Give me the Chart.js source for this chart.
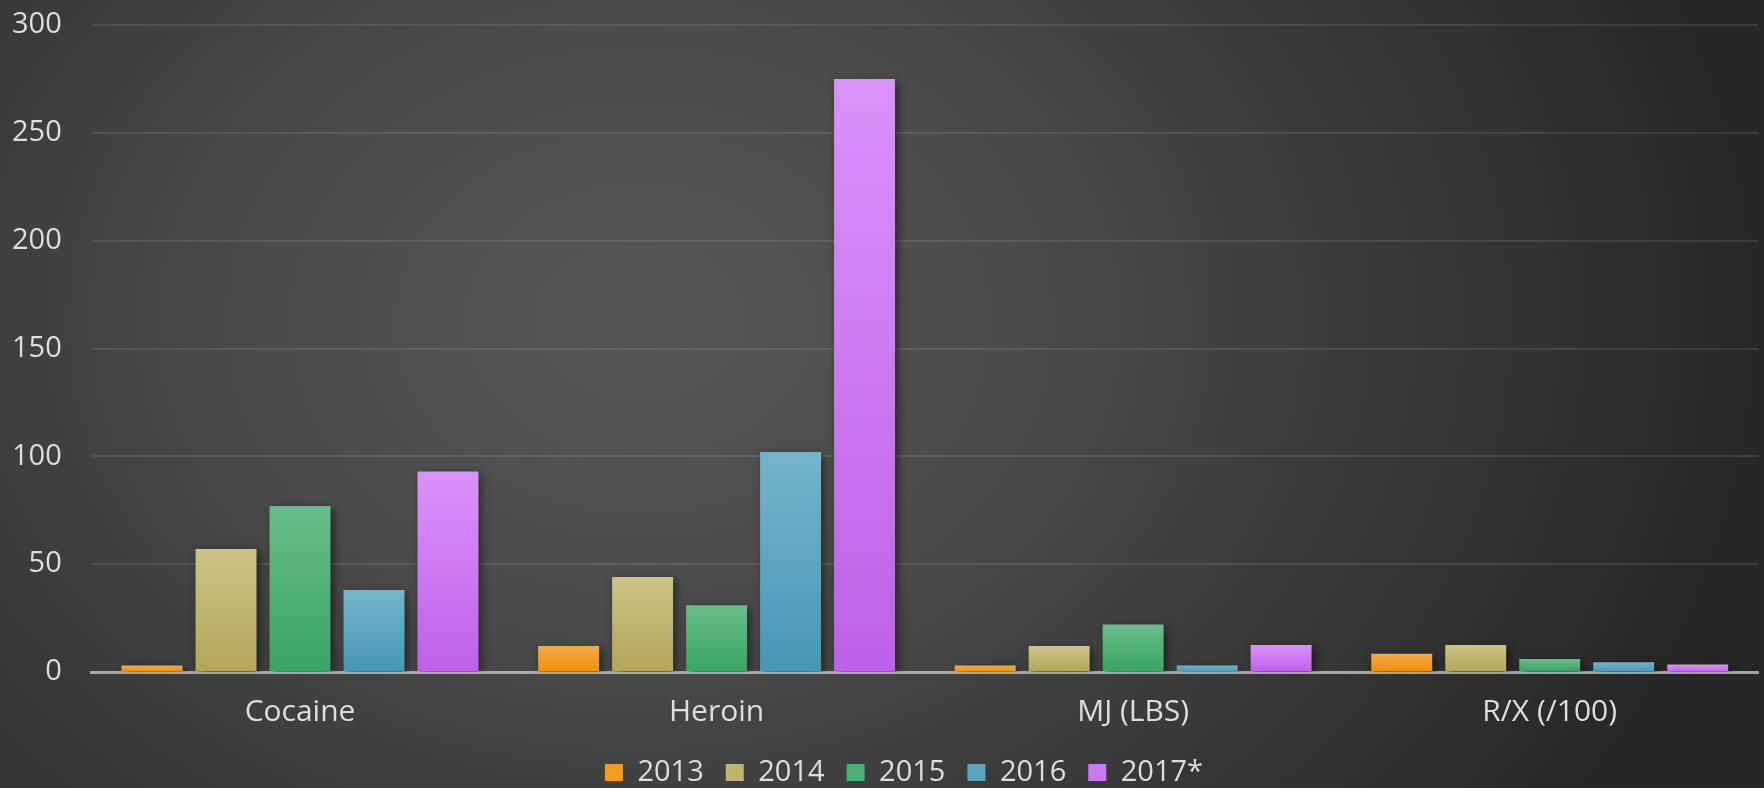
<!DOCTYPE html>
<html>
<head>
<meta charset="utf-8">
<script src="https://cdn.jsdelivr.net/npm/chart.js@4.4.1/dist/chart.umd.min.js"></script>
<style>
  html, body { margin: 0; padding: 0; }
  body {
    width: 1764px; height: 788px; overflow: hidden;
    background: radial-gradient(ellipse 1150px 900px at 640px 320px, #575757 0%, #4a4a4a 35%, #363636 70%, #262626 100%);
  }
  #wrap { position: relative; width: 1764px; height: 788px; }
</style>
</head>
<body>
<div id="wrap"><canvas id="c" width="1764" height="788"></canvas></div>
<script>
const categories = ['Cocaine', 'Heroin', 'MJ (LBS)', 'R/X (/100)'];
const seriesNames = ['2013', '2014', '2015', '2016', '2017*'];
const v2013 = [3, 12, 3, 8.5];
const v2014 = [57, 44, 12, 12.5];
const v2015 = [77, 31, 22, 6];
const v2016 = [38, 102, 3, 4.5];
const v2017 = [93, 275, 12.5, 3.5];
const yTicks = [0, 50, 100, 150, 200, 250, 300];

const seriesValues = [v2013, v2014, v2015, v2016, v2017];
const topColors = ['#f6a64c', '#ccc487', '#68bd89', '#74b4cd', '#da92fb'];
const bottomColors = ['#f39000', '#b4a558', '#39a463', '#4597b5', '#be60e8'];
const midColors = ['#f49b22', '#c0b46e', '#4caf74', '#5aa5c0', '#cc78f1'];

function barGradient(i) {
  return function (ctx) {
    const chart = ctx.chart;
    const y = chart.scales && chart.scales.y;
    if (!y || ctx.raw === undefined || !chart.chartArea) return midColors[i];
    const top = y.getPixelForValue(ctx.raw);
    const base = y.getPixelForValue(0);
    const g = chart.ctx.createLinearGradient(0, top, 0, base === top ? top + 1 : base);
    g.addColorStop(0, topColors[i]);
    g.addColorStop(1, bottomColors[i]);
    return g;
  };
}

const FONT = "'Open Sans', 'DejaVu Sans', sans-serif";
const TXT = '#dedede';

const shadowPlugin = {
  id: 'barShadow',
  beforeDatasetsDraw(chart) {
    const c = chart.ctx;
    c.save();
    c.shadowColor = 'rgba(0,0,0,0.55)';
    c.shadowBlur = 9;
    c.shadowOffsetX = 3;
    c.shadowOffsetY = 3;
  },
  afterDatasetsDraw(chart) {
    chart.ctx.restore();
  }
};

const legendShift = {
  id: 'legendShift',
  afterLayout(chart) {
    const lg = chart.legend;
    if (lg) { lg.left += 19; lg.right += 19; }
  }
};

new Chart(document.getElementById('c'), {
  type: 'bar',
  data: {
    labels: categories,
    datasets: seriesNames.map((name, i) => ({
      label: name,
      data: seriesValues[i],
      backgroundColor: barGradient(i),
      borderWidth: 0,
      barPercentage: 0.824,
      categoryPercentage: 0.888
    }))
  },
  options: {
    responsive: false,
    animation: false,
    devicePixelRatio: 1,
    layout: { padding: { left: 12, right: 6, top: 25, bottom: -9 } },
    plugins: {
      tooltip: { enabled: false },
      legend: {
        position: 'bottom',
        labels: {
          color: TXT,
          font: { family: FONT, size: 29 },
          boxWidth: 18,
          boxHeight: 17,
          padding: 22,
          generateLabels(chart) {
            return chart.data.datasets.map((ds, i) => ({
              text: ds.label,
              fillStyle: midColors[i],
              strokeStyle: midColors[i],
              lineWidth: 0,
              fontColor: TXT,
              datasetIndex: i,
              hidden: false
            }));
          }
        }
      }
    },
    scales: {
      x: {
        z: 1,
        grid: { display: true, drawOnChartArea: false, drawTicks: true, tickLength: 16, tickColor: 'rgba(0,0,0,0)' },
        border: { display: true, color: 'rgba(200,200,200,0.75)', width: 3 },
        ticks: { color: TXT, font: { family: FONT, size: 30 }, padding: 6 }
      },
      y: {
        min: 0,
        max: 300,
        afterBuildTicks(scale) { scale.ticks = yTicks.map(v => ({ value: v })); },
        grid: { color: 'rgba(255,255,255,0.1)', lineWidth: 2, drawTicks: true, tickLength: 30, tickColor: 'rgba(0,0,0,0)' },
        border: { display: false },
        ticks: { color: TXT, font: { family: FONT, size: 29 }, padding: 0 }
      }
    }
  },
  plugins: [shadowPlugin, legendShift]
});
</script>
</body>
</html>
